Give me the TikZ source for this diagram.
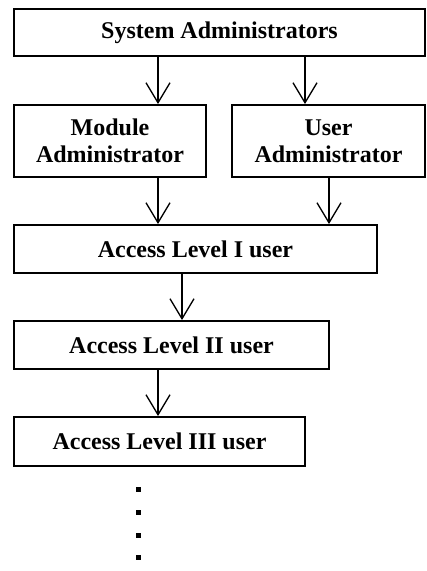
\documentclass[tikz,border=0pt]{standalone}
\usepackage{fontspec}
\setmainfont{Liberation Serif}
\usetikzlibrary{arrows.meta}
\begin{document}
\begin{tikzpicture}[x=1pt,y=-1pt,
  box/.style={draw=black, line width=2pt, inner sep=0pt, font=\fontsize{24}{27}\selectfont\bfseries, align=center},
  arr/.style={draw=black, line width=1.1pt, -{Straight Barb[length=20pt,width=24pt,line width=1.3pt]}},
  dotsq/.style={fill=black, minimum size=5pt, inner sep=0pt}]
\useasboundingbox (0,0) rectangle (427,571);
\node[box, minimum width=411pt, minimum height=47pt] (sys) at (219.5,32.5) {System Administrators};
\node[box, minimum width=192pt, minimum height=72pt] (mod) at (110,141) {Module\\Administrator};
\node[box, minimum width=193pt, minimum height=72pt] (usr) at (328.5,141) {User\\Administrator};
\node[box, minimum width=363pt, minimum height=48pt] (l1) at (195.5,249) {Access Level I user};
\node[box, minimum width=315pt, minimum height=48pt] (l2) at (171.5,345) {Access Level II user};
\node[box, minimum width=291pt, minimum height=49pt] (l3) at (159.5,441.5) {Access Level III user};
\coordinate (xa) at (158,0);
\coordinate (xb) at (305,0);
\coordinate (xc) at (329,0);
\coordinate (xd) at (182,0);
\draw[arr] (sys.south -| xa) -- (mod.north -| xa);
\draw[arr] (sys.south -| xb) -- (usr.north -| xb);
\draw[arr] (mod.south -| xa) -- (l1.north -| xa);
\draw[arr] (usr.south -| xc) -- (l1.north -| xc);
\draw[arr] (l1.south -| xd) -- (l2.north -| xd);
\draw[arr] (l2.south -| xa) -- (l3.north -| xa);
\node[dotsq] (d1) at (138,489) {};
\node[dotsq] (d2) at (138,512) {};
\node[dotsq] (d3) at (138,535) {};
\node[dotsq] (d4) at (138,557) {};
\end{tikzpicture}
\end{document}
